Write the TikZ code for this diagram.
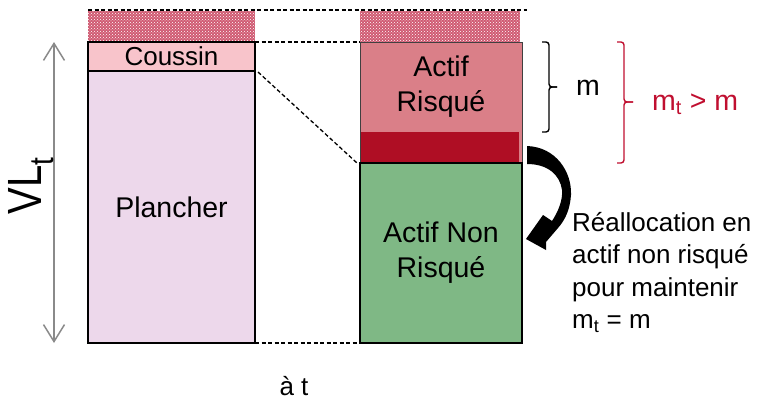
\documentclass[tikz,border=0pt]{standalone}
\usepackage{fontspec}
\setmainfont{Liberation Sans}
\usetikzlibrary{arrows.meta,patterns}
\definecolor{hatchred}{HTML}{D05A72}
\definecolor{cous}{HTML}{F8C4CB}
\definecolor{planch}{HTML}{EDD8EB}
\definecolor{risk}{HTML}{DA7F88}
\definecolor{band}{HTML}{AF0E24}
\definecolor{green}{HTML}{7FB885}
\definecolor{redtxt}{HTML}{C00F30}
\definecolor{axisgray}{HTML}{8A8A8A}
\begin{document}
\begin{tikzpicture}[x=1pt,y=-1pt,
  colbox/.style={draw=black,line width=1.4pt,inner sep=0pt,outer sep=0pt,anchor=north west,align=center},
  big/.style={font=\fontsize{28.5}{35}\selectfont},
  mid/.style={font=\fontsize{26}{32.5}\selectfont},
  dashline/.style={line width=1.3pt,dash pattern=on 4pt off 2.5pt},
  hatch/.style={fill=hatchred,postaction={pattern=crosshatch dots,pattern color=white}},
  bracepath/.style={line width=1.4pt,rounded corners=3pt}]
\useasboundingbox (0,0) rectangle (758,399);

% hatched tops
\path[hatch] (88,11) rectangle (255,42);
\path[hatch] (360,11) rectangle (520,42);

% left column
\node[colbox,fill=cous,minimum width=167pt,minimum height=29pt,font=\fontsize{26}{30}\selectfont] (coussin) at (88,42) {Coussin};
\node[colbox,fill=planch,minimum width=167pt,minimum height=272pt,big] (plancher) at (88,71) {Plancher};

% right column
\node[anchor=north west,fill=risk,inner sep=0pt,outer sep=0pt,minimum width=162pt,minimum height=121pt] (riskbg) at (360,42) {};
\node[anchor=north west,inner sep=0pt,outer sep=0pt,minimum width=162pt,minimum height=90pt,align=center,big] (risque) at (360,42) {Actif\\Risqué};
\node[anchor=north west,fill=band,inner sep=0pt,outer sep=0pt,minimum width=159pt,minimum height=31pt] (band) at (360,132) {};
\draw[line width=1pt,draw=black!75] (riskbg.north west) rectangle (riskbg.south east);
\node[colbox,fill=green,minimum width=162pt,minimum height=180pt,big] (nonrisque) at (360,163) {Actif Non\\Risqué};

% dashed guides
\coordinate (dtopL) at (88,10);
\coordinate (dtopR) at (527,10);
\draw[dashline] (dtopL) -- (dtopR);
\draw[dashline] (coussin.north east) -- (riskbg.north west);
\draw[dashline] ([xshift=3pt,yshift=-1pt]coussin.south east) -- ([xshift=-3pt]nonrisque.north west);
\draw[dashline] (plancher.south east) -- (nonrisque.south west);

% VL_t axis
\coordinate (axtop) at (54,42);
\coordinate (axbot) at (54,343);
\draw[axisgray,line width=1.5pt,{Straight Barb[length=17pt,width=21pt]}-{Straight Barb[length=17pt,width=21pt]}] (axtop) -- (axbot);
\node[rotate=90,inner sep=0pt,font=\fontsize{40}{40}\selectfont] (vl) at (31,186) {\scalebox{1}[1.2]{VL\textsubscript{t}}};

% braces
\draw[bracepath] (542,42) -- (549,42) -- (549,87) -- (557,87);
\draw[bracepath] (557,87) -- (549,87) -- (549,132) -- (542,132);
\node[big,anchor=base] (mlab) at (588,95) {m};
\draw[bracepath,redtxt] (617,42) -- (624,42) -- (624,102) -- (633,102);
\draw[bracepath,redtxt] (633,102) -- (624,102) -- (624,163) -- (617,163);
\node[big,anchor=base west,text=redtxt,inner sep=0pt] (mtlab) at (652,110) {m\textsubscript{t} > m};

% curved arrow
\fill[black] (527,146) .. controls (556,147) and (572,172) .. (571,195)
  .. controls (570,210) and (565,220) .. (558,228) -- (546,242) -- (546,250)
  -- (526,239) -- (543,215) -- (552,221)
  .. controls (558,212) and (563,200) .. (562,190)
  .. controls (560,175) and (548,164) .. (527,164) -- cycle;

% explanation
\node[mid,anchor=north west,align=left,inner sep=0pt] (expl) at (572,212) {Réallocation en\\actif non risqué\\pour maintenir\\m\textsubscript{t} = m};

% bottom label
\node[mid,anchor=base] (at) at (294,395) {à t};
\end{tikzpicture}
\end{document}
